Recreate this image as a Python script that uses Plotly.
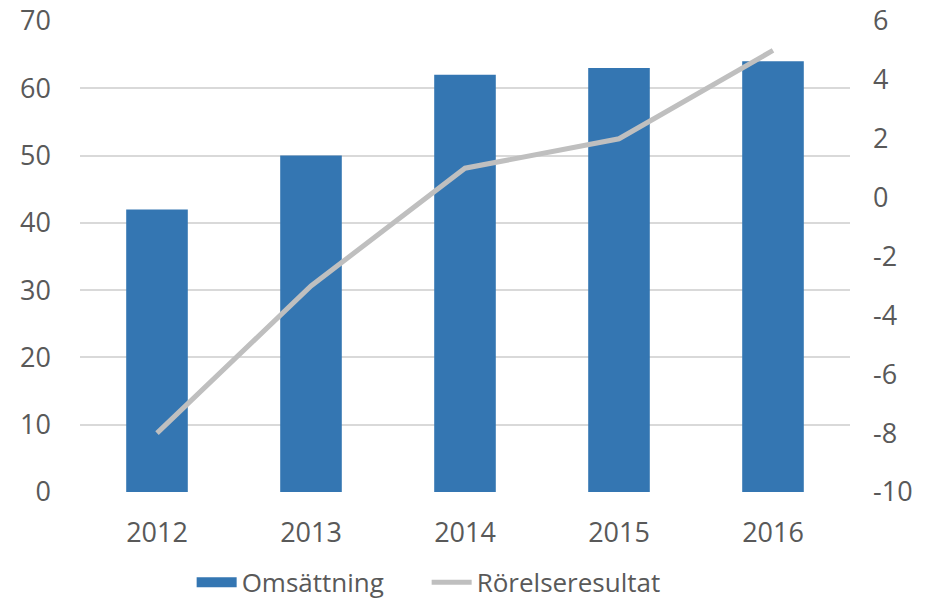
import plotly.graph_objects as go

years = ["2012", "2013", "2014", "2015", "2016"]
omsattning = [42, 50, 62, 63, 64]
rorelseresultat = [-8, -3, 1, 2, 5]

left_ticks = [0, 10, 20, 30, 40, 50, 60, 70]
right_ticks = [-10, -8, -6, -4, -2, 0, 2, 4, 6]
right_labels = ["-10", "-8", "-6", "-4", "-2", "0", "2", "4", "6"]

font = dict(family="Open Sans, Liberation Sans, sans-serif", size=27, color="#595959")
legend_font = dict(family="Open Sans, Liberation Sans, sans-serif", size=26, color="#595959")
bar_color = "#3476B2"

fig = go.Figure()
fig.add_trace(go.Bar(x=years, y=omsattning, name="Omsättning", showlegend=False,
                     marker=dict(color=bar_color, line=dict(width=0)), width=0.4))
# legend proxy for the bar series (wide filled rectangle look)
fig.add_trace(go.Scatter(x=[None], y=[None], name="Omsättning", mode="lines",
                         line=dict(color=bar_color, width=18)))
fig.add_trace(go.Scatter(x=years, y=rorelseresultat, name="Rörelseresultat", yaxis="y2",
                         mode="lines", line=dict(color="#BFBFBF", width=5)))

fig.update_layout(
    width=927, height=601,
    margin=dict(l=80, r=77, t=21, b=109, autoexpand=False),
    paper_bgcolor="white", plot_bgcolor="white",
    font=font,
    xaxis=dict(showgrid=False, showline=False, ticks="", tickfont=font,
               ticklabelstandoff=22, automargin=False),
    yaxis=dict(range=[0, 70], tickvals=left_ticks, showgrid=True, gridcolor="#D9D9D9",
               gridwidth=1.5, zeroline=False, tickfont=font, ticklabelstandoff=28,
               automargin=False),
    yaxis2=dict(range=[-10, 6], tickvals=right_ticks, ticktext=right_labels,
                overlaying="y", side="right",
                showgrid=False, zeroline=False, tickfont=font, ticklabelstandoff=22,
                automargin=False),
    legend=dict(orientation="h", x=0.145, xanchor="left", y=-0.142, yanchor="top",
                font=legend_font, itemwidth=40, entrywidth=180),
    bargap=0.6,
    showlegend=True,
)

fig.write_html("out.html", config={"displayModeBar": False},
               post_script="document.body.style.margin='0';document.body.style.overflow='hidden';")
